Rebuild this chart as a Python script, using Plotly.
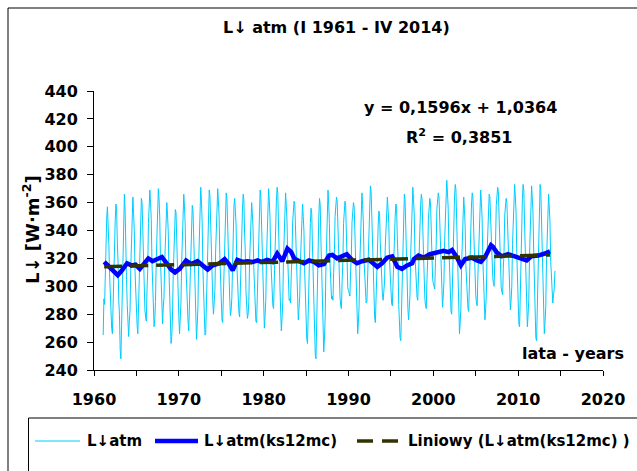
import plotly.graph_objects as go

# Monthly downward longwave radiation L↓atm [W·m-2], January 1961 - April 2014
lw_1961_1969 = [
    265, 291, 287, 310, 338, 349, 357, 346, 330, 309, 289, 277,
    270, 266, 290, 306, 336, 347, 359, 355, 331, 318, 290, 280,
    255, 248, 271, 292, 331, 350, 366, 354, 338, 305, 287, 268,
    264, 275, 283, 313, 333, 357, 364, 352, 340, 311, 296, 277,
    272, 266, 288, 302, 335, 349, 363, 360, 335, 319, 291, 283,
    278, 275, 298, 312, 345, 358, 369, 360, 348, 317, 301, 282,
    271, 277, 289, 318, 337, 362, 370, 363, 349, 320, 304, 284,
    273, 285, 292, 317, 332, 355, 360, 351, 340, 312, 296, 268,
    259, 264, 278, 307, 326, 351, 355, 353, 330, 312, 283, 278,
]
lw_1970_1979 = [
    266, 277, 288, 317, 337, 361, 366, 357, 344, 315, 297, 278,
    275, 268, 289, 304, 335, 346, 358, 355, 332, 316, 287, 277,
    262, 272, 285, 316, 338, 365, 371, 361, 346, 313, 294, 271,
    265, 266, 291, 308, 343, 357, 369, 365, 340, 323, 295, 290,
    280, 289, 297, 324, 343, 365, 370, 361, 350, 322, 305, 283,
    276, 274, 296, 312, 345, 356, 367, 363, 339, 324, 297, 291,
    279, 283, 292, 320, 336, 358, 363, 354, 344, 316, 301, 284,
    281, 278, 301, 315, 347, 355, 366, 362, 338, 325, 296, 286,
    277, 280, 289, 316, 332, 355, 360, 352, 341, 314, 299, 279,
    275, 274, 297, 313, 347, 358, 369, 364, 341, 325, 296, 285,
]
lw_1980_1989 = [
    270, 279, 290, 320, 340, 365, 370, 361, 349, 320, 305, 288,
    286, 284, 306, 321, 352, 361, 371, 367, 344, 329, 300, 283,
    268, 277, 289, 319, 338, 362, 367, 358, 347, 321, 308, 290,
    291, 288, 308, 320, 346, 352, 361, 359, 339, 325, 297, 286,
    276, 284, 293, 318, 335, 355, 359, 350, 339, 311, 293, 268,
    262, 259, 284, 301, 334, 345, 356, 352, 329, 312, 281, 267,
    251, 248, 278, 298, 335, 350, 363, 358, 333, 314, 282, 266,
    253, 263, 278, 311, 335, 362, 369, 359, 345, 315, 305, 291,
    293, 290, 310, 323, 350, 356, 364, 361, 341, 327, 301, 292,
    286, 284, 304, 317, 345, 352, 361, 358, 337, 323, 299, 297,
]
lw_1990_1999 = [
    295, 293, 311, 322, 346, 352, 360, 357, 337, 321, 289, 277,
    266, 274, 286, 316, 337, 361, 367, 358, 346, 318, 305, 290,
    288, 289, 308, 324, 354, 363, 372, 368, 346, 329, 301, 287,
    277, 274, 295, 308, 336, 344, 354, 351, 331, 318, 297, 294,
    290, 297, 303, 328, 343, 361, 364, 355, 345, 319, 306, 290,
    288, 286, 305, 317, 343, 350, 359, 356, 336, 321, 287, 272,
    263, 261, 287, 305, 340, 354, 366, 362, 338, 320, 292, 284,
    276, 283, 294, 323, 344, 367, 371, 362, 351, 323, 308, 292,
    292, 290, 310, 324, 352, 358, 366, 363, 343, 328, 300, 291,
    286, 284, 305, 319, 348, 354, 363, 360, 340, 327, 305, 302,
]
lw_2000_2009 = [
    300, 298, 317, 329, 355, 360, 367, 364, 345, 331, 303, 294,
    285, 293, 303, 333, 353, 373, 376, 367, 356, 328, 310, 288,
    282, 280, 304, 322, 355, 364, 373, 369, 347, 329, 295, 280,
    266, 274, 285, 315, 336, 359, 364, 355, 343, 315, 301, 285,
    284, 282, 304, 320, 351, 359, 367, 364, 342, 327, 301, 294,
    288, 286, 307, 323, 353, 361, 369, 360, 349, 320, 302, 281,
    276, 284, 294, 323, 343, 364, 366, 364, 345, 333, 311, 307,
    302, 300, 319, 331, 358, 363, 371, 368, 349, 335, 307, 299,
    296, 294, 313, 325, 351, 355, 363, 360, 341, 329, 302, 292,
    283, 290, 300, 330, 350, 370, 373, 364, 353, 324, 303, 278,
]
lw_2010_2014 = [
    273, 271, 296, 316, 351, 363, 373, 369, 346, 328, 296, 283,
    271, 279, 290, 321, 344, 368, 372, 363, 352, 324, 303, 274,
    263, 261, 288, 310, 347, 361, 373, 369, 345, 325, 290, 276,
    266, 274, 285, 316, 338, 362, 366, 357, 346, 318, 305, 291,
    288, 294, 298, 311,
]
first_year = 1961

# 12-month moving average L↓atm(ks12mc)
ma_year = [
    1961.2, 1961.65, 1962.25, 1962.8, 1963.3, 1963.9, 1964.4, 1964.9, 1965.4, 1966.0,
    1966.4, 1966.9, 1967.5, 1968.0, 1968.5, 1969.1, 1969.55, 1970.1, 1970.85, 1971.45,
    1972.2, 1972.8, 1973.4, 1974.0, 1974.8, 1975.4, 1975.9, 1976.35, 1976.9, 1977.5,
    1978.1, 1978.7, 1979.3, 1979.7, 1980.45, 1981.05, 1981.6, 1982.2, 1982.8, 1983.25,
    1983.6, 1984.2, 1984.75, 1985.35, 1985.95, 1986.5, 1987.1, 1987.7, 1988.1, 1988.65,
    1989.25, 1989.8, 1990.4, 1991.0, 1991.6, 1992.4, 1993.0, 1993.4, 1993.95, 1994.55,
    1995.15, 1995.75, 1996.3, 1996.9, 1997.5, 1997.7, 1998.25, 1998.85, 1999.6, 2000.4,
    2001.2, 2001.8, 2002.2, 2002.75, 2003.25, 2003.75, 2004.55, 2005.15, 2005.6, 2006.1,
    2006.5, 2006.8, 2007.0, 2007.45, 2008.05, 2008.8, 2009.6, 2010.4, 2011.0, 2011.55,
    2012.35, 2013.15, 2013.75,
]
ma_value = [
    317.5, 315.0, 312.0, 308.0, 311.5, 316.5, 315.0, 315.5, 312.5, 317.0,
    320.0, 318.0, 319.5, 321.0, 317.0, 312.0, 310.0, 312.5, 318.5, 316.0,
    318.0, 315.0, 312.0, 315.0, 316.5, 319.5, 316.0, 311.5, 319.0, 317.5,
    318.0, 317.5, 318.5, 317.5, 319.0, 317.5, 323.5, 318.0, 327.0, 324.5,
    320.0, 318.0, 316.5, 318.5, 317.5, 315.0, 316.0, 322.0, 322.5, 320.0,
    321.5, 323.0, 319.0, 316.5, 318.0, 319.0, 316.0, 314.0, 316.5, 320.5,
    321.5, 314.0, 312.5, 315.0, 316.5, 319.5, 322.0, 320.5, 323.0, 324.5,
    325.5, 324.5, 326.0, 321.0, 315.0, 319.5, 320.5, 318.5, 317.5, 321.0,
    327.0, 329.5, 328.5, 324.5, 321.5, 323.0, 321.5, 320.0, 318.5, 321.5,
    322.0, 323.5, 325.0,
]

# Linear trend of the moving average: y = 0,1596x + 1,0364
trend_slope = 0.1596
trend_intercept = 1.0364

x_tick_values = list(range(1960, 2021, 10))
x_minor_values = list(range(1965, 2020, 10))
y_tick_values = list(range(240, 441, 20))

TXT = dict(family="DejaVu Sans", size=16, color="black", weight="bold")
LEG = dict(family="DejaVu Sans", size=15, color="black", weight="bold")
YTITLE = dict(family="DejaVu Sans", size=18, color="black", weight="bold")

monthly = lw_1961_1969 + lw_1970_1979 + lw_1980_1989 + lw_1990_1999 + lw_2000_2009 + lw_2010_2014
monthly_x = [first_year + (i + 1) / 12 for i in range(len(monthly))]
trend_x = [ma_year[0], ma_year[-1]]
trend_y = [trend_slope * v + trend_intercept for v in trend_x]

fig = go.Figure()
fig.add_trace(go.Scatter(x=monthly_x, y=monthly, mode="lines", name="L↓atm",
                         line=dict(color="#00CCFF", width=1)))
fig.add_trace(go.Scatter(x=ma_year, y=ma_value, mode="lines", name="L↓atm(ks12mc)",
                         line=dict(color="#0000FF", width=4.5)))
fig.add_trace(go.Scatter(x=trend_x, y=trend_y, mode="lines", name="Liniowy (L↓atm(ks12mc) )",
                         line=dict(color="#333300", width=3.5, dash="18px,8px")))

# plot area: x 94..603 px, y 91..370 px
L, R, T, B = 94, 34, 91, 101
W, H = 637, 471
pw, ph = W - L - R, H - T - B


def px(x):
    return (x - L) / pw


def py(y):
    return (H - B - y) / ph


shapes = [
    # chart frame
    dict(type="rect", xref="paper", yref="paper", x0=px(8), x1=px(700), y0=py(520), y1=py(8),
         line=dict(color="black", width=1), fillcolor="rgba(0,0,0,0)", layer="below"),
    # legend frame
    dict(type="rect", xref="paper", yref="paper", x0=px(28.5), x1=px(700), y0=py(520), y1=py(418),
         line=dict(color="black", width=1), fillcolor="rgba(0,0,0,0)"),
]

legend_y = 441
legend_items = [
    (35, 80, "#00CCFF", 1, "solid", 85, "L↓atm"),
    (155, 198, "#0000FF", 4.5, "solid", 202, "L↓atm(ks12mc)"),
    (357, 400, "#333300", 3.5, "16px,9px", 406, "Liniowy (L↓atm(ks12mc) )"),
]
annotations = []
for x0, x1, col, wd, dash, tx, label in legend_items:
    shapes.append(dict(type="line", xref="paper", yref="paper", x0=px(x0), x1=px(x1),
                       y0=py(legend_y), y1=py(legend_y), line=dict(color=col, width=wd, dash=dash)))
    annotations.append(dict(x=px(tx), y=py(legend_y), xref="paper", yref="paper", text=label,
                            showarrow=False, xanchor="left", yanchor="middle", font=LEG))

annotations += [
    dict(x=px(336), y=py(28), xref="paper", yref="paper", text="L↓ atm (I 1961 - IV 2014)",
         showarrow=False, xanchor="center", yanchor="middle", font=TXT),
    dict(x=px(460), y=py(107), xref="paper", yref="paper", text="y = 0,1596x + 1,0364",
         showarrow=False, xanchor="center", yanchor="middle", font=TXT),
    dict(x=px(459), y=py(136), xref="paper", yref="paper", text="R<sup>2</sup> = 0,3851",
         showarrow=False, xanchor="center", yanchor="middle", font=TXT),
    dict(x=px(520), y=py(353), xref="paper", yref="paper", text="lata - years",
         showarrow=False, xanchor="left", yanchor="middle", font=TXT),
    dict(x=px(31), y=py(230), xref="paper", yref="paper", text="L↓ [W·m<sup>-2</sup>]",
         showarrow=False, xanchor="center", yanchor="middle", textangle=-90, font=YTITLE),
]

fig.update_layout(
    width=W, height=H,
    margin=dict(l=L, r=R, t=T, b=B, pad=0),
    paper_bgcolor="white", plot_bgcolor="white",
    showlegend=False,
    shapes=shapes, annotations=annotations,
    xaxis=dict(range=[1960, 2020], tickmode="array", tickvals=x_tick_values,
               ticks="outside", ticklen=5, tickwidth=1, tickcolor="black",
               minor=dict(tickmode="array", tickvals=x_minor_values, ticks="outside",
                          ticklen=5, tickwidth=1, tickcolor="black", showgrid=False),
               showline=True, linecolor="black", linewidth=1, showgrid=False, zeroline=False,
               tickfont=TXT, ticklabelstandoff=10),
    yaxis=dict(range=[240, 440], tickmode="array", tickvals=y_tick_values,
               ticks="outside", ticklen=6, tickwidth=1, tickcolor="black",
               showline=True, linecolor="black", linewidth=1, showgrid=False, zeroline=False,
               tickfont=TXT, ticklabelstandoff=6),
)

fig.write_html("out.html")
